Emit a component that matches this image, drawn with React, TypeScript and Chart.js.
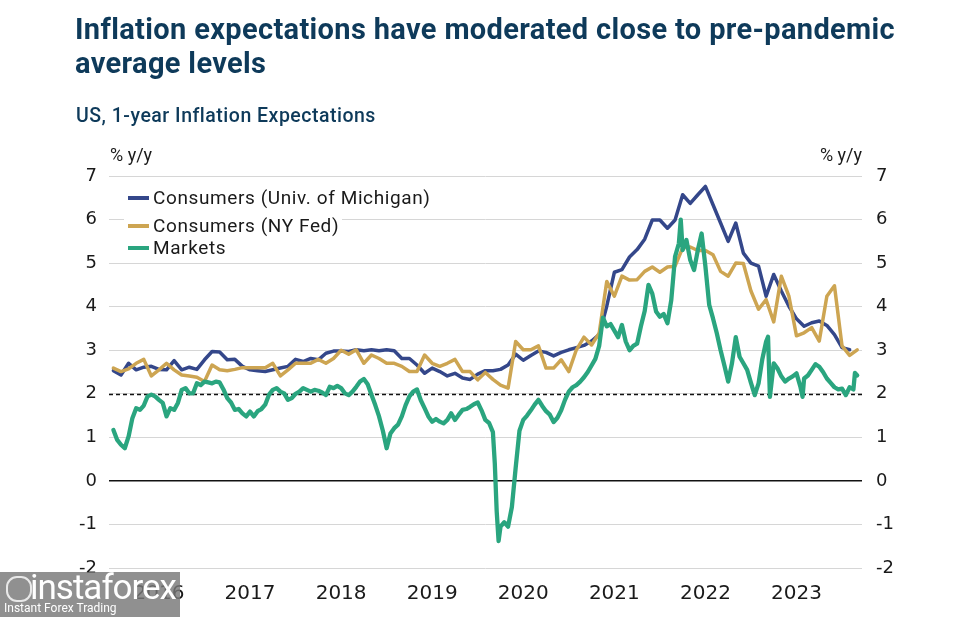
import React, { useEffect, useRef } from "react";
import { Chart, registerables } from "chart.js";

Chart.register(...registerables);

// x positions are months counted from the first observation (Dec 2015 / Jan 2016)
const yearLabels = ["2016", "2017", "2018", "2019", "2020", "2021", "2022", "2023"];
const yearTickMonths = [6, 18, 30, 42, 54, 66, 78, 90];

// Monthly series (index = month offset)
const seriesBlue = [
  2.53, 2.43, 2.70, 2.55, 2.61, 2.63, 2.56, 2.55, 2.76, 2.55,
  2.61, 2.56, 2.78, 2.97, 2.96, 2.78, 2.79, 2.63, 2.55, 2.53,
  2.51, 2.55, 2.59, 2.63, 2.79, 2.74, 2.81, 2.78, 2.93, 2.98,
  2.98, 2.97, 3.01, 2.99, 3.01, 2.99, 3.01, 2.99, 2.81, 2.81,
  2.66, 2.47, 2.59, 2.51, 2.41, 2.47, 2.36, 2.33, 2.45, 2.53,
  2.53, 2.56, 2.66, 2.91, 2.77, 2.88, 2.98, 2.95, 2.87, 2.95,
  3.01, 3.06, 3.11, 3.21, 3.36, 4.01, 4.79, 4.85, 5.14, 5.31,
  5.55, 5.99, 5.99, 5.80, 5.99, 6.57, 6.37, 6.57, 6.76, 6.34,
  5.92, 5.50, 5.92, 5.23, 5.00, 4.93, 4.24, 4.74, 4.36, 4.01,
  3.72, 3.55, 3.63, 3.67, 3.57, 3.36, 3.06, 3.01,
];

const seriesGold = [
  2.59, 2.51, 2.57, 2.70, 2.79, 2.41, 2.55, 2.70, 2.55, 2.43,
  2.41, 2.38, 2.28, 2.66, 2.55, 2.53, 2.56, 2.60, 2.60, 2.60,
  2.60, 2.70, 2.41, 2.55, 2.70, 2.70, 2.70, 2.79, 2.70, 2.81,
  3.00, 2.91, 3.01, 2.70, 2.89, 2.81, 2.70, 2.70, 2.63, 2.51,
  2.51, 2.89, 2.70, 2.63, 2.70, 2.79, 2.51, 2.51, 2.32, 2.49,
  2.33, 2.20, 2.13, 3.20, 3.01, 3.01, 3.10, 2.59, 2.59, 2.78,
  2.51, 3.01, 3.30, 3.12, 3.39, 4.58, 4.24, 4.70, 4.61, 4.62,
  4.81, 4.91, 4.79, 4.91, 4.93, 5.35, 5.37, 5.29, 5.29, 5.19,
  4.81, 4.70, 5.00, 4.99, 4.36, 3.94, 4.16, 3.65, 4.70, 4.24,
  3.33, 3.40, 3.52, 3.21, 4.24, 4.48, 3.10, 2.88, 3.01,
];

// Market-based series (roughly half-monthly readings)
const marketsMonth = [
  0, 0.5, 1, 1.5, 2, 2.5, 3, 3.5, 4, 4.5, 5, 5.5, 6, 6.5, 7, 7.5, 8, 8.5, 9, 9.5,
  10, 10.5, 11, 11.5, 12, 12.5, 13, 13.5, 14, 14.5, 15, 15.5, 16, 16.5, 17, 17.5, 18, 18.5, 19, 19.5,
  20, 20.5, 21, 21.5, 22, 22.5, 23, 23.5, 24, 24.5, 25, 25.5, 26, 26.5, 27, 27.5, 28, 28.5, 29, 29.5,
  30, 30.5, 31, 31.5, 32, 32.5, 33, 33.5, 34, 34.5, 35, 35.5, 36, 36.5, 37, 37.5, 38, 38.5, 39, 39.5,
  40, 40.5, 41, 41.5, 42, 42.5, 43, 43.5, 44, 44.5, 45, 45.5, 46, 46.5, 47, 47.5, 48, 48.5, 49, 49.5,
  50, 50.25, 50.5, 50.75, 51, 51.5, 52, 52.5, 53, 53.5, 54, 54.5, 55, 55.5, 56, 56.5, 57, 57.5, 58, 58.5,
  59, 59.5, 60, 60.5, 61, 61.5, 62, 62.5, 63, 63.5, 64, 64.5, 65, 65.5, 66, 66.5, 67, 67.5, 68, 68.5,
  69, 69.5, 70, 70.5, 71, 71.5, 72, 72.5, 73, 73.5, 74, 74.5, 74.75, 75, 75.5, 76, 76.5, 77, 77.5, 78,
  78.5, 79, 79.5, 80, 80.5, 81, 81.5, 82, 82.5, 83, 83.5, 84, 84.5, 85, 85.5, 86, 86.25, 86.5, 87, 87.5,
  88, 88.5, 89, 89.5, 90, 90.5, 90.8, 91, 91.5, 92, 92.5, 93, 93.5, 94, 94.5, 95, 95.5, 96, 96.5, 97,
  97.5, 97.7, 98,
];
const marketsValue = [
  1.17, 0.94, 0.83, 0.75, 1.02, 1.44, 1.67, 1.63, 1.73, 1.94, 1.98, 1.94, 1.86, 1.79, 1.48, 1.67, 1.63, 1.79, 2.09, 2.13,
  2.01, 2.01, 2.24, 2.20, 2.28, 2.26, 2.24, 2.28, 2.26, 2.10, 1.90, 1.80, 1.63, 1.65, 1.55, 1.48, 1.59, 1.48, 1.60, 1.65,
  1.75, 1.98, 2.09, 2.13, 2.05, 2.01, 1.86, 1.90, 2.00, 2.05, 2.13, 2.09, 2.05, 2.09, 2.07, 2.03, 1.97, 2.16, 2.13, 2.18,
  2.13, 2.01, 1.97, 2.05, 2.16, 2.28, 2.34, 2.22, 1.98, 1.74, 1.48, 1.15, 0.75, 1.09, 1.21, 1.29, 1.48, 1.74, 1.94, 2.05,
  2.10, 1.85, 1.67, 1.48, 1.36, 1.42, 1.36, 1.32, 1.40, 1.55, 1.40, 1.52, 1.63, 1.65, 1.70, 1.76, 1.80, 1.62, 1.40, 1.33,
  1.12, 0.40, -0.70, -1.38, -1.05, -0.95, -1.05, -0.60, 0.30, 1.15, 1.40, 1.50, 1.62, 1.75, 1.86, 1.72, 1.60, 1.52, 1.35, 1.45,
  1.62, 1.86, 2.05, 2.15, 2.20, 2.28, 2.38, 2.50, 2.65, 2.80, 3.10, 3.75, 3.55, 3.60, 3.45, 3.30, 3.58, 3.20, 3.00, 3.10,
  3.15, 3.55, 3.90, 4.50, 4.30, 3.89, 3.77, 3.83, 3.62, 4.15, 5.15, 5.45, 6.00, 5.30, 5.53, 5.07, 4.84, 5.30, 5.68, 4.92,
  4.04, 3.73, 3.39, 3.00, 2.65, 2.28, 2.70, 3.30, 2.85, 2.70, 2.55, 2.25, 1.97, 2.24, 2.80, 3.20, 3.31, 1.93, 2.70, 2.58,
  2.40, 2.28, 2.35, 2.40, 2.47, 2.17, 1.93, 2.35, 2.42, 2.55, 2.68, 2.62, 2.50, 2.35, 2.25, 2.15, 2.10, 2.12, 1.97, 2.15,
  2.10, 2.48, 2.42,
];

const legendLabels = ["Consumers (Univ. of Michigan)", "Consumers (NY Fed)", "Markets"];
const targetLevel = 2;
const yMin = -2;
const yMax = 7;

const BLUE = "#34478a";
const GOLD = "#cda552";
const GREEN = "#2aa57f";
const NAVY = "#0e3a5a";
const FONT = "Roboto, 'Noto Sans', sans-serif";
const TICK_FONT = "'DejaVu Sans', sans-serif";

const targetLinePlugin = {
  id: "targetLine",
  beforeDatasetsDraw(chart: any) {
    const { ctx, chartArea, scales } = chart;
    const y = Math.round(scales.y.getPixelForValue(targetLevel)) + 0.5;
    ctx.save();
    ctx.strokeStyle = "#111";
    ctx.lineWidth = 1.5;
    ctx.setLineDash([4, 3]);
    ctx.beginPath();
    ctx.moveTo(chartArea.left, y);
    ctx.lineTo(chartArea.right, y);
    ctx.stroke();
    ctx.restore();
  },
};

export default function App() {
  const ref = useRef<HTMLCanvasElement>(null);

  useEffect(() => {
    if (!ref.current) return;
    const toXY = (arr: number[]) => arr.map((v, i) => ({ x: i, y: v }));
    const tickFont = { family: TICK_FONT, size: 18 };
    const chart = new Chart(ref.current, {
      type: "line",
      data: {
        datasets: [
          {
            label: legendLabels[0],
            data: toXY(seriesBlue),
            borderColor: BLUE,
            borderWidth: 3.5,
            order: 2,
            yAxisID: "y",
          },
          {
            label: legendLabels[1],
            data: toXY(seriesGold),
            borderColor: GOLD,
            borderWidth: 3.5,
            order: 1,
            yAxisID: "y",
          },
          {
            label: legendLabels[2],
            data: marketsMonth.map((m, i) => ({ x: m, y: marketsValue[i] })),
            borderColor: GREEN,
            borderWidth: 4.3,
            order: 0,
            yAxisID: "y",
          },
        ],
      },
      options: {
        animation: false,
        responsive: false,
        events: [],
        layout: { padding: { top: 176, left: 0, right: 0, bottom: 0 } },
        elements: {
          point: { radius: 0 },
          line: { tension: 0, borderJoinStyle: "round", borderCapStyle: "round" },
        },
        plugins: { legend: { display: false }, tooltip: { enabled: false }, title: { display: false } },
        scales: {
          x: {
            type: "linear",
            min: -0.58,
            max: 98.63,
            grid: { display: false, drawTicks: false },
            border: { display: false },
            afterBuildTicks: (s: any) => {
              s.ticks = yearTickMonths.map((v) => ({ value: v }));
            },
            afterFit: (s: any) => {
              s.height = 49;
            },
            ticks: {
              autoSkip: false,
              maxRotation: 0,
              padding: 14,
              color: "#1a1a1a",
              font: { family: TICK_FONT, size: 20 },
              callback: (_v: any, i: number) => yearLabels[i],
            },
          },
          y: {
            position: "left",
            min: yMin,
            max: yMax,
            border: { display: false },
            grid: {
              drawTicks: false,
              color: (c: any) => (c.tick && c.tick.value === 0 ? "#111" : "#d6d6d6"),
              lineWidth: (c: any) => (c.tick && c.tick.value === 0 ? 1.6 : 1),
            },
            ticks: { stepSize: 1, padding: 12, color: "#1a1a1a", font: tickFont },
            afterFit: (s: any) => {
              s.width = 109;
            },
          },
          y2: {
            position: "right",
            min: yMin,
            max: yMax,
            border: { display: false },
            grid: { display: false, drawTicks: false },
            ticks: { stepSize: 1, padding: 14, color: "#1a1a1a", font: tickFont },
            afterFit: (s: any) => {
              s.width = 110;
            },
          },
        },
      } as any,
      plugins: [targetLinePlugin],
    });
    return () => chart.destroy();
  }, []);

  const legendColors = [BLUE, GOLD, GREEN];
  const legendCenters = [198, 226, 248];

  return (
    <div
      style={{
        position: "absolute",
        left: 0,
        top: 0,
        width: 972,
        height: 617,
        background: "#fff",
        overflow: "hidden",
        fontFamily: FONT,
      }}
    >
      <canvas ref={ref} width={972} height={617} style={{ position: "absolute", left: 0, top: 0, display: "block" }} />
      <div
        style={{
          position: "absolute",
          left: 75,
          top: 12,
          fontSize: 29,
          lineHeight: "34px",
          fontWeight: 700,
          letterSpacing: 0.35,
          color: NAVY,
          whiteSpace: "nowrap",
        }}
      >
        Inflation expectations have moderated close to pre-pandemic
        <br />
        average levels
      </div>
      <div
        style={{
          position: "absolute",
          left: 76,
          top: 106,
          fontSize: 19.5,
          lineHeight: "20px",
          fontWeight: 500,
          letterSpacing: 0.5,
          color: NAVY,
          whiteSpace: "nowrap",
        }}
      >
        US, 1-year Inflation Expectations
      </div>
      <div style={{ position: "absolute", left: 110, top: 146, fontSize: 18, lineHeight: "18px", color: "#1a1a1a" }}>
        % y/y
      </div>
      <div
        style={{
          position: "absolute",
          right: 972 - 862,
          top: 146,
          fontSize: 18,
          lineHeight: "18px",
          color: "#1a1a1a",
          textAlign: "right",
        }}
      >
        % y/y
      </div>
      {legendLabels.map((lab, i) => (
        <div
          key={lab}
          style={{
            position: "absolute",
            left: 124,
            top: legendCenters[i] - 11,
            height: 22,
            display: "flex",
            alignItems: "center",
            background: "#fff",
            paddingRight: 3,
            whiteSpace: "nowrap",
          }}
        >
          <span style={{ display: "inline-block", width: 21, height: 4, background: legendColors[i], marginLeft: 4 }} />
          <span style={{ marginLeft: 4, fontSize: 19, letterSpacing: 0.6, color: "#1a1a1a", lineHeight: "22px" }}>{lab}</span>
        </div>
      ))}
      <div
        style={{
          position: "absolute",
          left: 0,
          top: 572,
          width: 180,
          height: 45,
          background: "rgba(120,120,120,0.82)",
          color: "#fff",
        }}
      >
        <div style={{ position: "absolute", left: 6, top: 4, width: 22, height: 22, borderRadius: 11, border: "2px solid rgba(255,255,255,0.8)" }} />
        <div style={{ position: "absolute", left: 30, top: -3, fontSize: 35, lineHeight: "38px", letterSpacing: -1 }}>
          instaforex
        </div>
        <div style={{ position: "absolute", left: 4, top: 30, fontSize: 12, lineHeight: "13px" }}>
          Instant Forex Trading
        </div>
      </div>
    </div>
  );
}
